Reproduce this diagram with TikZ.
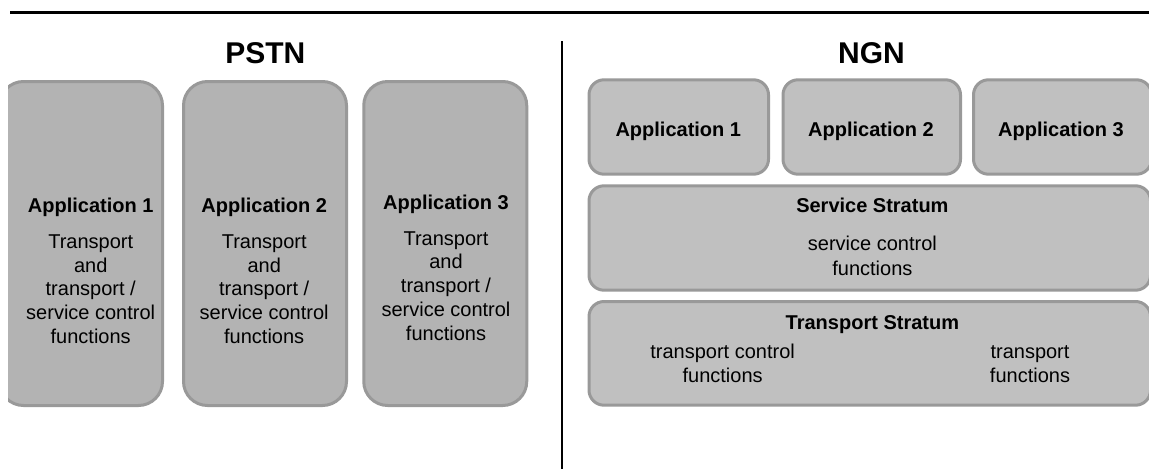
\documentclass[tikz,border=0pt]{standalone}
\usepackage{fontspec}
\setmainfont{Liberation Sans}
\begin{document}
\begin{tikzpicture}[x=1pt,y=-1pt,
  pstnbox/.style={draw=boxline, fill=pstnfill, line width=3pt, rounded corners=24pt, inner sep=0pt, minimum width=163pt, minimum height=324pt},
  ngnbox/.style={draw=boxline, fill=ngnfill, line width=3pt, rounded corners=15pt, inner sep=0pt},
  title/.style={font=\fontsize{30}{36}\selectfont\bfseries, inner sep=0pt, anchor=base},
  head/.style={font=\fontsize{20}{24}\selectfont\bfseries, inner sep=0pt, anchor=base},
  body/.style={font=\fontsize{20}{23.75}\selectfont, align=center, inner sep=0pt, anchor=base}]
\definecolor{pstnfill}{HTML}{B3B3B3}
\definecolor{ngnfill}{HTML}{C0C0C0}
\definecolor{boxline}{HTML}{999999}
\useasboundingbox (0,0) rectangle (1149,469);
\fill[white] (0,0) rectangle (1149,469);
\coordinate (topL) at (10,12.5);
\coordinate (topR) at (1149,12.5);
\draw[line width=2.5pt] (topL) -- (topR);
\coordinate (divT) at (562,41);
\coordinate (divB) at (562,469);
\draw[line width=1.3pt] (divT) -- (divB);
\begin{scope}
\clip (8,0) rectangle (1149,469);
% PSTN
\node[pstnbox] (p1) at (81,243.5) {};
\node[pstnbox] (p2) at (265,243.5) {};
\node[pstnbox] (p3) at (445.25,243.5) {};
% NGN
\node[ngnbox, minimum width=179.5pt, minimum height=94.4pt] (a1) at (678.75,127) {};
\node[ngnbox, minimum width=177.5pt, minimum height=94.4pt] (a2) at (871.75,127) {};
\node[ngnbox, minimum width=178pt, minimum height=94.4pt] (a3) at (1062.5,127) {};
\node[ngnbox, minimum width=561.5pt, minimum height=104.4pt] (ss) at (869.75,238) {};
\node[ngnbox, minimum width=561.5pt, minimum height=103.7pt] (ts) at (869.75,353.35) {};
\end{scope}
% titles
\node[title] (pstn) at (265.4,63.3) {PSTN};
\node[title] (ngn) at (871.5,63.8) {NGN};
% PSTN texts (body nodes anchored at the baseline of their last line)
\node[head] (p1h) at (90.7,212.7) {Application 1};
\node[body] (p1b) at (90.7,343.3) {Transport\\and\\transport /\\service control\\functions};
\node[head] (p2h) at (264.2,212.7) {Application 2};
\node[body] (p2b) at (264.2,343.3) {Transport\\and\\transport /\\service control\\functions};
\node[head] (p3h) at (446,209.5) {Application 3};
\node[body] (p3b) at (446,340) {Transport\\and\\transport /\\service control\\functions};
% NGN texts
\node[head] (a1t) at (678.3,136) {Application 1};
\node[head] (a2t) at (871,136) {Application 2};
\node[head] (a3t) at (1061,136) {Application 3};
\node[head] (sst) at (872.4,212.7) {Service Stratum};
\node[body, font=\fontsize{20}{25}\selectfont] (ssb) at (872.4,275) {service control\\functions};
\node[head] (tst) at (872.4,329.4) {Transport Stratum};
\node[body, font=\fontsize{20}{24}\selectfont] (tcf) at (722.6,382.3) {transport control\\functions};
\node[body, font=\fontsize{20}{24}\selectfont] (tf) at (1030,382.3) {transport\\functions};
\end{tikzpicture}
\end{document}
